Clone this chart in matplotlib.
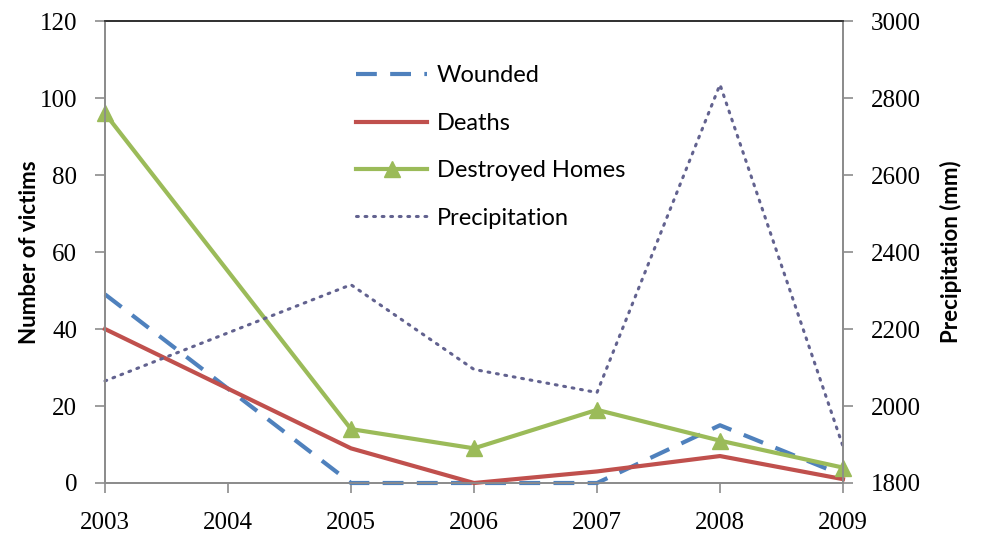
import matplotlib.pyplot as plt
from matplotlib.lines import Line2D

years = [2003, 2004, 2005, 2006, 2007, 2008, 2009]
wounded = [49, None, 0, 0, 0, 15, 2]
deaths = [40, None, 9, 0, 3, 7, 1]
destroyed = [96, None, 14, 9, 19, 11, 4]
precip = [2065, None, 2315, 2095, 2035, 2835, 1895]

blue = '#4F81BD'
red = '#C0504D'
green = '#9BBB59'
purple = '#62628F'
axis_grey = '#8C8C8C'


def present(xs, ys):
    pairs = [(x, y) for x, y in zip(xs, ys) if y is not None]
    return [p[0] for p in pairs], [p[1] for p in pairs]


fig = plt.figure(figsize=(9.84, 5.39), dpi=100)
ax = fig.add_axes([0.1067, 0.1039, 0.75, 0.8571])
ax2 = ax.twinx()

ax.plot(*present(years, wounded), color=blue, lw=3, dashes=(5, 3.2),
        clip_on=False, zorder=3)
ax.plot(*present(years, deaths), color=red, lw=3, clip_on=False, zorder=3)
ax.plot(*present(years, destroyed), color=green, lw=3, marker='^', ms=12,
        clip_on=False, zorder=4)
ax2.plot(*present(years, precip), color=purple, lw=2.2, dashes=(0.6, 2.2),
         dash_capstyle='round', clip_on=False)

ax.set_xlim(2003, 2009)
ax.set_ylim(0, 120)
ax.set_yticks(range(0, 121, 20))
ax.set_xticks(years)
ax2.set_ylim(1800, 3000)
ax2.set_yticks(range(1800, 3001, 200))

for a in (ax, ax2):
    for s in a.spines.values():
        s.set_color(axis_grey)
        s.set_linewidth(1.3)
    a.spines['top'].set_color('#333333')
    a.tick_params(direction='out', length=7, width=1.2, color=axis_grey,
                  labelsize=18, pad=13)
    for lbl in a.get_xticklabels() + a.get_yticklabels():
        lbl.set_family('Liberation Serif')
ax.tick_params(axis='x', pad=14)

ax.set_ylabel('Number of victims', fontsize=16, fontweight='bold', family='Lato')
ax2.set_ylabel('Precipitation (mm)', fontsize=16, fontweight='bold', family='Lato')
ax.yaxis.set_label_coords(-0.088, 0.5)
ax2.yaxis.set_label_coords(1.132, 0.5)

handles = [Line2D([], [], color=blue, lw=3, dashes=(5, 3.2)),
           Line2D([], [], color=red, lw=3),
           Line2D([], [], color=green, lw=3, marker='^', ms=12),
           Line2D([], [], color=purple, lw=2.2, dashes=(0.6, 2.2),
                  dash_capstyle='round')]
labels = ['Wounded', 'Deaths', 'Destroyed Homes', 'Precipitation']
ax.legend(handles, labels, loc='upper left', bbox_to_anchor=(0.312, 0.95),
          frameon=False, prop=dict(family='Lato', size=17),
          handlelength=3.0, labelspacing=1.12, handletextpad=0.4)

fig.savefig('out.png', dpi=100)
